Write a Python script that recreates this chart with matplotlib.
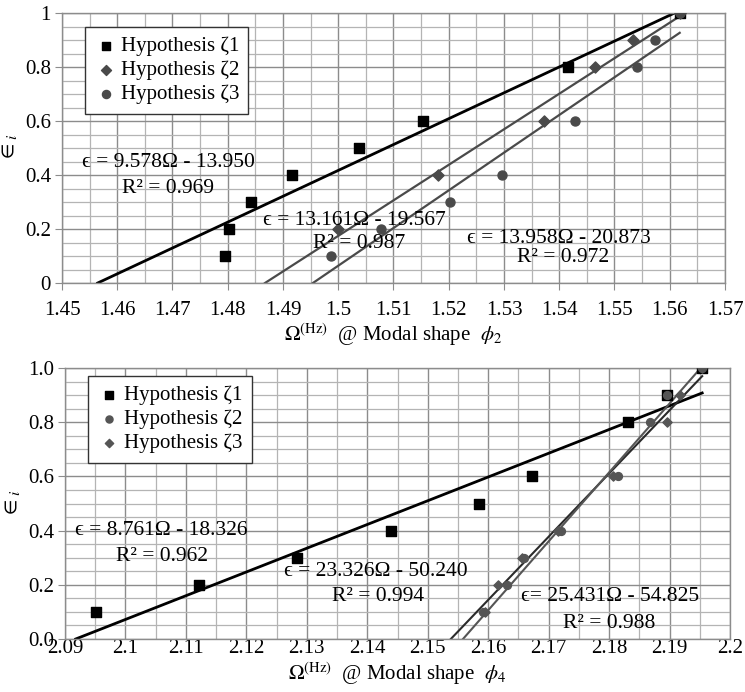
import matplotlib
matplotlib.use("Agg")
import matplotlib.pyplot as plt
import numpy as np
from matplotlib.ticker import MultipleLocator, FixedLocator

plt.rcParams['font.family'] = ['Liberation Serif', 'DejaVu Serif']
plt.rcParams['mathtext.fontset'] = 'stix'

# ---------------- data: top chart (modal shape phi_2) ----------------
top_z1_x = [1.4795, 1.4802, 1.4842, 1.4916, 1.5037, 1.5153, 1.5415, 1.5618]
top_z1_y = [0.1, 0.2, 0.3, 0.4, 0.5, 0.6, 0.8, 1.0]
top_z2_x = [1.4999, 1.5180, 1.5373, 1.5464, 1.5533, 1.5618]
top_z2_y = [0.2, 0.4, 0.6, 0.8, 0.9, 1.0]
top_z3_x = [1.4987, 1.5078, 1.5202, 1.5296, 1.5428, 1.5540, 1.5574, 1.5618]
top_z3_y = [0.1, 0.2, 0.3, 0.4, 0.6, 0.8, 0.9, 1.0]
top_slopes = [9.578, 13.161, 13.958]
top_intercepts = [-13.950, -19.567, -20.873]
top_r2 = [0.969, 0.987, 0.972]
top_xticks = [1.45, 1.46, 1.47, 1.48, 1.49, 1.50, 1.51, 1.52, 1.53, 1.54, 1.55, 1.56, 1.57]
top_xticklabels = ['1.45', '1.46', '1.47', '1.48', '1.49', '1.5', '1.51', '1.52',
                   '1.53', '1.54', '1.55', '1.56', '1.57']
top_yticklabels = ['0', '0.2', '0.4', '0.6', '0.8', '1']

# ---------------- data: bottom chart (modal shape phi_4) ----------------
bot_z1_x = [2.0951, 2.1122, 2.1284, 2.1439, 2.1585, 2.1673, 2.1831, 2.1896, 2.1954]
bot_z1_y = [0.1, 0.2, 0.3, 0.4, 0.5, 0.6, 0.8, 0.9, 1.0]
bot_z2_x = [2.1591, 2.1631, 2.1660, 2.1720, 2.1815, 2.1868, 2.1896, 2.1954]
bot_z2_y = [0.1, 0.2, 0.3, 0.4, 0.6, 0.8, 0.9, 1.0]
bot_z3_x = [2.1595, 2.1616, 2.1656, 2.1716, 2.1807, 2.1896, 2.1917, 2.1954]
bot_z3_y = [0.1, 0.2, 0.3, 0.4, 0.6, 0.8, 0.9, 1.0]
bot_slopes = [8.761, 23.326, 25.431]
bot_intercepts = [-18.326, -50.240, -54.825]
bot_r2 = [0.962, 0.994, 0.988]
bot_xticks = [2.09, 2.10, 2.11, 2.12, 2.13, 2.14, 2.15, 2.16, 2.17, 2.18, 2.19, 2.20]
bot_xticklabels = ['2.09', '2.1', '2.11', '2.12', '2.13', '2.14', '2.15', '2.16',
                   '2.17', '2.18', '2.19', '2.2']
bot_yticklabels = ['0.0', '0.2', '0.4', '0.6', '0.8', '1.0']

labels = ['Hypothesis \u03b61', 'Hypothesis \u03b62', 'Hypothesis \u03b63']

BLACK = '#000000'
GRAY = '#4a4a4a'
GRID_MAJOR = '#8c8c8c'
GRID_MINOR = '#b4b4b4'

fig = plt.figure(figsize=(7.45, 6.92), dpi=100)
ax1 = fig.add_axes([62/745, 409/692, 663/745, 270/692])
ax2 = fig.add_axes([65/745, 53/692, 665/745, 271/692])


def style_axes(ax, xlim, xticks, xlabels, ylabels, xminor):
    ax.set_xlim(*xlim)
    ax.set_ylim(0, 1)
    ax.xaxis.set_major_locator(FixedLocator(xticks))
    ax.set_xticklabels(xlabels)
    ax.xaxis.set_minor_locator(MultipleLocator(xminor))
    ax.set_yticks([0, 0.2, 0.4, 0.6, 0.8, 1.0])
    ax.set_yticklabels(ylabels)
    ax.yaxis.set_minor_locator(MultipleLocator(0.05))
    ax.grid(which='major', color=GRID_MAJOR, lw=1.0, zorder=0)
    ax.grid(which='minor', color=GRID_MINOR, lw=0.9, zorder=0)
    ax.set_axisbelow(True)
    for s in ax.spines.values():
        s.set_color('#8c8c8c')
        s.set_linewidth(1.0)
    ax.tick_params(which='minor', length=0)
    ax.tick_params(axis='y', which='major', length=5, color='#8c8c8c',
                   labelsize=15, pad=3)


def fit_line(ax, xs, slope, intercept, color, lw):
    x0 = -intercept / slope
    xx = np.array([x0, max(xs)])
    ax.plot(xx, slope * xx + intercept, color=color, lw=lw, zorder=2)


def eq_text(slope, intercept, sep=' = '):
    return '\u03f5' + sep + '%.3f\u03a9 - %.3f' % (slope, -intercept)


# ---------------- top chart ----------------
style_axes(ax1, (1.45, 1.57), top_xticks, top_xticklabels, top_yticklabels, 0.005)
ax1.tick_params(axis='x', which='major', length=5, color='#8c8c8c', labelsize=15, pad=8)

fit_line(ax1, top_z1_x, top_slopes[0], top_intercepts[0], BLACK, 2.0)
fit_line(ax1, top_z2_x, top_slopes[1], top_intercepts[1], GRAY, 1.6)
fit_line(ax1, top_z3_x, top_slopes[2], top_intercepts[2], GRAY, 1.6)

ax1.scatter(top_z1_x, top_z1_y, marker='s', s=48, color=BLACK, zorder=3, label=labels[0])
ax1.scatter(top_z2_x, top_z2_y, marker='D', s=32, color=GRAY, zorder=4, label=labels[1])
ax1.scatter(top_z3_x, top_z3_y, marker='o', s=42, color=GRAY, zorder=4, label=labels[2])

eq_fs = 15.5
ax1.text(1.4693, 0.445, eq_text(top_slopes[0], top_intercepts[0]),
         ha='center', va='center', fontsize=eq_fs, zorder=5)
ax1.text(1.4692, 0.350, 'R\u00b2 = %.3f' % top_r2[0], ha='center', va='center',
         fontsize=eq_fs, zorder=5)
ax1.text(1.5030, 0.232, eq_text(top_slopes[1], top_intercepts[1]),
         ha='center', va='center', fontsize=eq_fs, zorder=5)
ax1.text(1.5038, 0.148, 'R\u00b2 = %.3f' % top_r2[1], ha='center', va='center',
         fontsize=eq_fs, zorder=5)
ax1.text(1.5400, 0.166, eq_text(top_slopes[2], top_intercepts[2]),
         ha='center', va='center', fontsize=eq_fs, zorder=5)
ax1.text(1.5407, 0.096, 'R\u00b2 = %.3f' % top_r2[2], ha='center', va='center',
         fontsize=eq_fs, zorder=5)

leg_kw = dict(loc='upper left', borderaxespad=0, fontsize=15, frameon=True,
              fancybox=False, edgecolor='#333333', framealpha=1, handletextpad=0.15,
              handlelength=1.1, borderpad=0.45, labelspacing=0.22, markerscale=0.9)
leg1 = ax1.legend(bbox_to_anchor=(0.035, 0.948), **leg_kw)
leg1.get_frame().set_linewidth(1.0)

ax1.set_xlabel(r'$\Omega^{\rm (Hz)}$  @ Modal shape  $\phi_2$', fontsize=15, labelpad=1)
ax1.set_ylabel(r'$\in_i$', fontsize=16, labelpad=4)

# ---------------- bottom chart ----------------
style_axes(ax2, (2.09, 2.20), bot_xticks, bot_xticklabels, bot_yticklabels, 0.005)
ax2.tick_params(axis='x', which='major', length=0, labelsize=15, pad=0)

fit_line(ax2, bot_z1_x, bot_slopes[0], bot_intercepts[0], BLACK, 2.0)
fit_line(ax2, bot_z2_x, bot_slopes[1], bot_intercepts[1], '#2a2a2a', 1.5)
fit_line(ax2, bot_z3_x, bot_slopes[2], bot_intercepts[2], '#555555', 1.5)

ax2.scatter(bot_z1_x, bot_z1_y, marker='s', s=48, color=BLACK, zorder=3, label=labels[0])
ax2.scatter(bot_z2_x, bot_z2_y, marker='o', s=32, color='#555555', zorder=4, label=labels[1])
ax2.scatter(bot_z3_x, bot_z3_y, marker='D', s=22, color='#555555', zorder=4, label=labels[2])

ax2.text(2.1059, 0.400, eq_text(bot_slopes[0], bot_intercepts[0]),
         ha='center', va='center', fontsize=eq_fs, zorder=5)
ax2.text(2.1060, 0.305, 'R\u00b2 = %.3f' % bot_r2[0], ha='center', va='center',
         fontsize=eq_fs, zorder=5)
ax2.text(2.1414, 0.250, eq_text(bot_slopes[1], bot_intercepts[1]),
         ha='center', va='center', fontsize=eq_fs, zorder=5)
ax2.text(2.1418, 0.155, 'R\u00b2 = %.3f' % bot_r2[1], ha='center', va='center',
         fontsize=eq_fs, zorder=5)
ax2.text(2.1802, 0.155, eq_text(bot_slopes[2], bot_intercepts[2], sep='= '),
         ha='center', va='center', fontsize=eq_fs, zorder=5)
ax2.text(2.1800, 0.059, 'R\u00b2 = %.3f' % bot_r2[2], ha='center', va='center',
         fontsize=eq_fs, zorder=5)

leg2 = ax2.legend(bbox_to_anchor=(0.035, 0.970), **leg_kw)
leg2.get_frame().set_linewidth(1.0)

ax2.set_xlabel(r'$\Omega^{\rm (Hz)}$  @ Modal shape  $\phi_4$', fontsize=15, labelpad=2)
ax2.set_ylabel(r'$\in_i$', fontsize=16, labelpad=4)

fig.savefig('out.png', dpi=100)
